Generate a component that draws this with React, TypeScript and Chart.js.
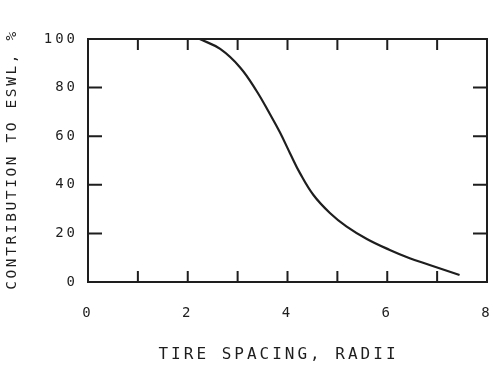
import React, { useEffect, useRef } from "react";
import { Chart, registerables } from "chart.js";

Chart.register(...registerables);

const spacing: number[] = [2.24, 2.65, 3.05, 3.38, 3.65, 3.85, 4.05, 4.25, 4.52, 4.85, 5.18, 5.6, 6.05, 6.45, 6.85, 7.45];
const contribution: number[] = [100, 95.9, 88.3, 78.6, 69.0, 61.5, 53.0, 44.8, 35.8, 28.4, 22.9, 17.6, 13.2, 9.8, 7.0, 2.9];
const xTickMarks: number[] = [1, 2, 3, 4, 5, 6, 7];
const yTickMarks: number[] = [20, 40, 60, 80];
const xLabelValues: number[] = [0, 2, 4, 6, 8];
const xTitle = "TIRE SPACING, RADII";
const yTitle = "CONTRIBUTION TO ESWL, %";

const INK = "#1e1e1e";
const FONT = "'DejaVu Sans Mono', 'Liberation Mono', monospace";

const framePlugin = {
  id: "frame",
  beforeLayout(chart: any) {
    (chart.ctx as any).letterSpacing = "3px";
  },
  beforeDraw(chart: any) {
    (chart.ctx as any).letterSpacing = "3px";
    const { ctx, width, height } = chart;
    ctx.save();
    ctx.fillStyle = "#ffffff";
    ctx.fillRect(0, 0, width, height);
    ctx.restore();
  },
  afterDraw(chart: any) {
    const { ctx, chartArea, scales } = chart;
    const { left, right, top, bottom } = chartArea;
    const x = scales.x;
    const y = scales.y;
    ctx.save();
    ctx.strokeStyle = INK;
    ctx.lineWidth = 2;
    ctx.lineCap = "butt";
    ctx.strokeRect(left, top, right - left, bottom - top);
    ctx.beginPath();
    xTickMarks.forEach((v) => {
      const px = x.getPixelForValue(v);
      ctx.moveTo(px, top);
      ctx.lineTo(px, top + 11);
      ctx.moveTo(px, bottom);
      ctx.lineTo(px, bottom - 11);
    });
    yTickMarks.forEach((v) => {
      const py = y.getPixelForValue(v);
      ctx.moveTo(left, py);
      ctx.lineTo(left + 14, py);
      ctx.moveTo(right, py);
      ctx.lineTo(right - 14, py);
    });
    ctx.stroke();

    // axis titles
    ctx.fillStyle = INK;
    ctx.textAlign = "center";
    ctx.textBaseline = "middle";
    (ctx as any).letterSpacing = "3px";
    ctx.font = `16px ${FONT}`;
    ctx.fillText(xTitle, (left + right) / 2 - 9, bottom + 73);
    ctx.translate(12, (top + bottom) / 2 - 1);
    ctx.rotate(-Math.PI / 2);
    (ctx as any).letterSpacing = "2.6px";
    ctx.font = `14.5px ${FONT}`;
    ctx.fillText(yTitle, 0, 0);
    ctx.restore();
  },
};

export default function App() {
  const canvasRef = useRef<HTMLCanvasElement | null>(null);

  useEffect(() => {
    if (!canvasRef.current) return;
    const chart = new Chart(canvasRef.current, {
      type: "line",
      data: {
        datasets: [
          {
            data: spacing.map((s, i) => ({ x: s, y: contribution[i] })),
            borderColor: INK,
            borderWidth: 2.2,
            pointRadius: 0,
            tension: 0.4,
            fill: false,
          },
        ],
      },
      options: {
        responsive: false,
        animation: false,
        layout: { padding: { left: 0, right: 12, top: 39, bottom: 0 } },
        plugins: {
          legend: { display: false },
          tooltip: { enabled: false },
        },
        scales: {
          x: {
            type: "linear",
            min: 0,
            max: 8,
            afterFit: (s: any) => {
              s.height = 86;
              s.paddingLeft = 0;
              s.paddingRight = 0;
            },
            afterBuildTicks: (s: any) => {
              s.ticks = xLabelValues.map((v) => ({ value: v }));
            },
            grid: { display: false, drawTicks: false },
            border: { display: false },
            ticks: {
              color: INK,
              font: { family: FONT, size: 14 },
              padding: 23,
              maxRotation: 0,
              autoSkip: false,
            },
          },
          y: {
            type: "linear",
            min: 0,
            max: 100,
            afterFit: (s: any) => {
              s.width = 88;
              s.paddingTop = 0;
              s.paddingBottom = 0;
            },
            grid: { display: false, drawTicks: false },
            border: { display: false },
            ticks: {
              stepSize: 20,
              color: INK,
              font: { family: FONT, size: 14 },
              padding: 10,
            },
          },
        },
      },
      plugins: [framePlugin],
    });
    return () => chart.destroy();
  }, []);

  return (
    <div style={{ position: "absolute", left: 0, top: 0, width: 499, height: 368, background: "#fff" }}>
      <canvas ref={canvasRef} width={499} height={368} />
    </div>
  );
}
